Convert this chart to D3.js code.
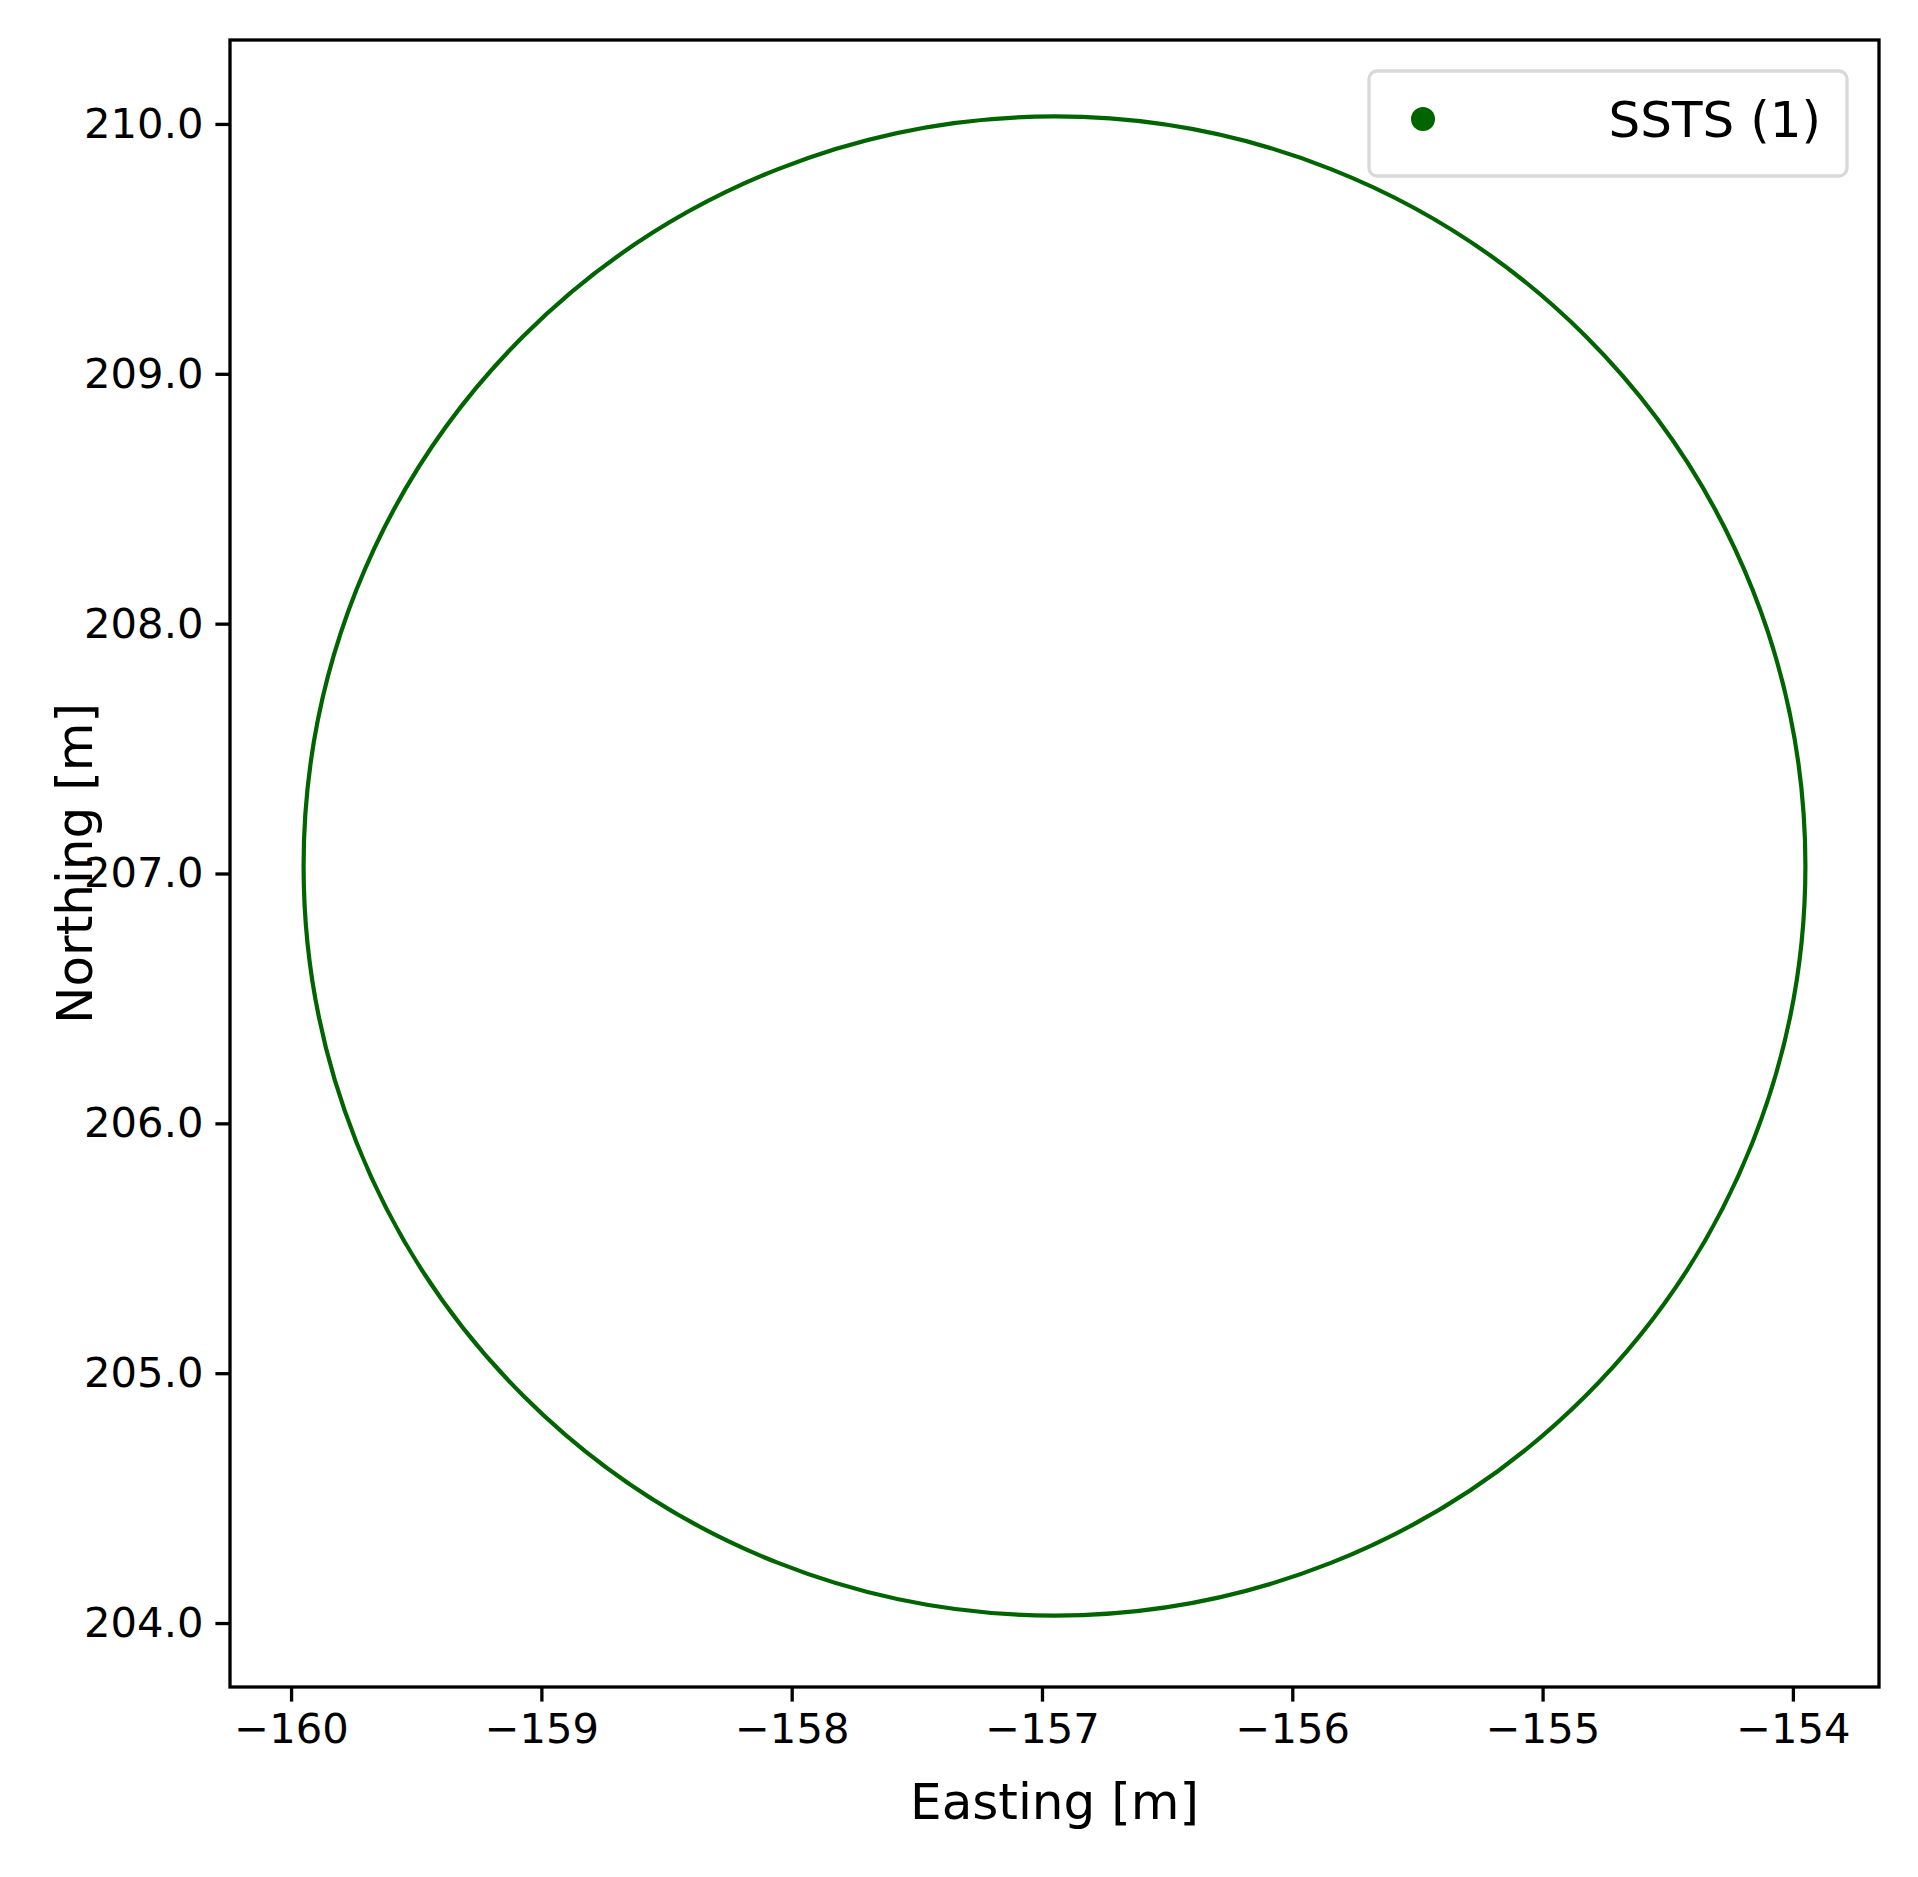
<!DOCTYPE html>
<html>
<head>
<meta charset="utf-8">
<script src="https://cdn.jsdelivr.net/npm/d3@7"></script>
<style>
  body { margin: 0; background: #fff; }
  text { font-family: "DejaVu Sans", sans-serif; fill: #000; }
</style>
</head>
<body>
<svg id="chart"></svg>
<script>
// data
const xDomain = [-160.244, -153.656];
const yDomain = [203.744, 210.336];
const xTicks = [-160, -159, -158, -157, -156, -155, -154];
const yTicks = [204, 205, 206, 207, 208, 209, 210];
const circleCenter = [-156.95, 207.03];
const circleRadius = [3.0];
const seriesName = ['SSTS (1)'];

const W = 1918, H = 1877;
const margin = { top: 40, right: 39, bottom: 190, left: 230 };
const width = W - margin.left - margin.right;
const height = H - margin.top - margin.bottom;
const green = '#006400';

const svg = d3.select('#chart').attr('width', W).attr('height', H);
const g = svg.append('g').attr('transform', `translate(${margin.left},${margin.top})`);

const x = d3.scaleLinear().domain(xDomain).range([0, width]);
const y = d3.scaleLinear().domain(yDomain).range([height, 0]);

const xAxis = d3.axisBottom(x).tickValues(xTicks).tickSize(14.6).tickPadding(12)
    .tickFormat(d => String(d).replace('-', '\u2212'));
const yAxis = d3.axisLeft(y).tickValues(yTicks).tickSize(14.6).tickPadding(12);

g.append('g').attr('transform', `translate(0,${height})`).call(xAxis)
  .call(a => a.select('.domain').remove())
  .call(a => a.selectAll('line').attr('stroke-width', 3.3))
  .call(a => a.selectAll('text').attr('font-size', 41.7).attr('font-family', 'DejaVu Sans'));
g.append('g').call(yAxis)
  .call(a => a.select('.domain').remove())
  .call(a => a.selectAll('line').attr('stroke-width', 3.3))
  .call(a => a.selectAll('text').attr('font-size', 41.7).attr('font-family', 'DejaVu Sans'));

// the circle
g.selectAll('.ring').data([{ c: circleCenter, r: circleRadius[0] }]).join('ellipse')
  .attr('class', 'ring')
  .attr('cx', d => x(d.c[0])).attr('cy', d => y(d.c[1]))
  .attr('rx', d => x(d.c[0] + d.r) - x(d.c[0]))
  .attr('ry', d => y(d.c[1]) - y(d.c[1] + d.r))
  .attr('fill', 'none').attr('stroke', green).attr('stroke-width', 4.2);

// frame
g.append('rect').attr('width', width).attr('height', height)
  .attr('fill', 'none').attr('stroke', '#000').attr('stroke-width', 3.3);

// axis titles
g.append('text').attr('x', width / 2).attr('y', height + 132)
  .attr('text-anchor', 'middle').attr('font-size', 50).text('Easting [m]');
g.append('text').attr('transform', `translate(${92 - margin.left},${height / 2}) rotate(-90)`)
  .attr('text-anchor', 'middle').attr('font-size', 50).text('Northing [m]');

// legend
const lg = svg.append('g');
lg.append('rect').attr('x', 1369).attr('y', 71).attr('width', 478).attr('height', 105)
  .attr('rx', 8).attr('fill', '#fff').attr('fill-opacity', 0.8)
  .attr('stroke', '#d9d9d9').attr('stroke-width', 3.3);
lg.append('circle').attr('cx', 1423).attr('cy', 119).attr('r', 12).attr('fill', green);
lg.append('text').attr('x', 1821).attr('y', 137).attr('text-anchor', 'end')
  .attr('font-size', 50).text(seriesName[0]);
</script>
</body>
</html>
